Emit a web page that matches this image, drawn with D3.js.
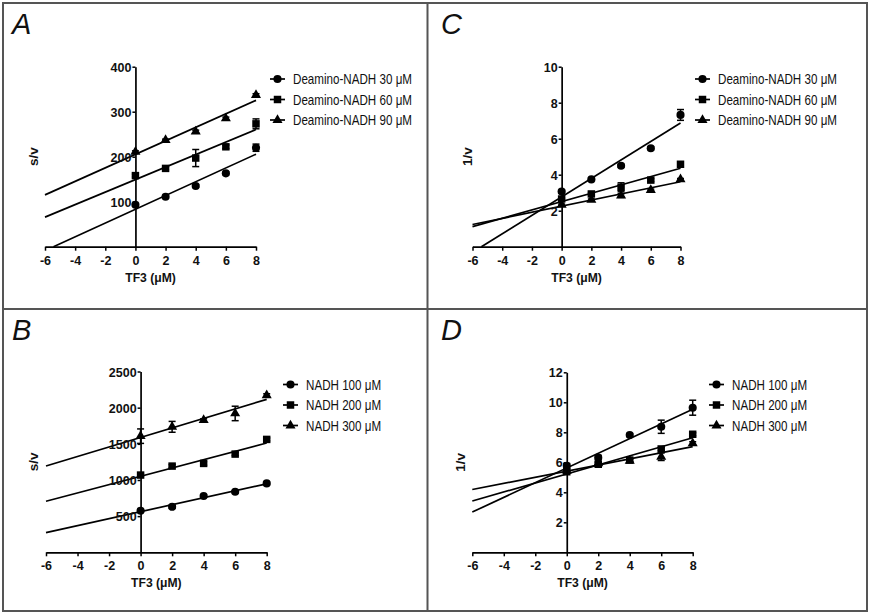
<!DOCTYPE html>
<html><head><meta charset="utf-8">
<script src="https://cdn.jsdelivr.net/npm/d3@7"></script>
<style>body{margin:0;background:#fff} svg{display:block}</style>
</head><body><svg id="chart" width="870" height="614"></svg>
<script>
// ---------- data ----------
const xValues = [0, 2, 4, 6, 8];            // TF3 (μM)
const xTickLabels = [-6, -4, -2, 0, 2, 4, 6, 8];
const deaminoSeries = ["Deamino-NADH 30 μM", "Deamino-NADH 60 μM", "Deamino-NADH 90 μM"];
const nadhSeries = ["NADH 100 μM", "NADH 200 μM", "NADH 300 μM"];

// Panel A: s/v (Deamino-NADH)
const A30 = [93, 111, 135, 163, 220];   const A30err = [3, 3, 3, 3, 8];
const A60 = [158, 174, 197, 222, 273];  const A60err = [3, 3, 19, 4, 11];
const A90 = [211, 237, 256, 285, 337];  const A90err = [2, 2, 3, 3, 3];
const yTicksA = [100, 200, 300, 400];

// Panel C: 1/v (Deamino-NADH)
const C30 = [3.06, 3.74, 4.5, 5.47, 7.32]; const C30err = [0.08, 0.06, 0.08, 0.08, 0.3];
const C60 = [2.65, 2.93, 3.3, 3.7, 4.58];  const C60err = [0.05, 0.08, 0.25, 0.08, 0.1];
const C90 = [2.32, 2.6, 2.84, 3.15, 3.74]; const C90err = [0.05, 0.05, 0.1, 0.05, 0.05];
const yTicksC = [2, 4, 6, 8, 10];

// Panel B: s/v (NADH)
const B100 = [575, 630, 778, 837, 953];     const B100err = [20, 20, 15, 15, 15];
const B200 = [1068, 1192, 1229, 1358, 1561]; const B200err = [20, 20, 25, 20, 20];
const B300 = [1606, 1735, 1827, 1920, 2172]; const B300err = [100, 75, 20, 100, 20];
const yTicksB = [500, 1000, 1500, 2000, 2500];

// Panel D: 1/v (NADH)
const D100 = [5.77, 6.31, 7.82, 8.37, 9.64]; const D100err = [0.15, 0.15, 0.1, 0.44, 0.5];
const D200 = [5.37, 5.87, 6.15, 6.89, 7.87]; const D200err = [0.1, 0.1, 0.1, 0.1, 0.1];
const D300 = [5.45, 5.93, 6.1, 6.37, 7.27];  const D300err = [0.1, 0.1, 0.1, 0.25, 0.1];
const yTicksD = [2, 4, 6, 8, 10, 12];

// ---------- drawing ----------
const svg = d3.select("#chart");
svg.append("rect").attr("x", 0).attr("y", 0).attr("width", 870).attr("height", 614).attr("fill", "#fff");

const FONT = "'Liberation Sans', Arial, Helvetica, sans-serif";
const symbols = [d3.symbolCircle, d3.symbolSquare, d3.symbolTriangle];
const symbolSizes = [52, 56, 44];

const panels = [
  { letter: "A", lx: 12, ly: 34, ylab: "s/v", names: deaminoSeries,
    series: [[A30, A30err], [A60, A60err], [A90, A90err]], yTicks: yTicksA, yMax: 400,
    xr: [45, 256], yr: [246.7, 66.7], ylabX: 38, legX: 270, legY: 79 },
  { letter: "C", lx: 441, ly: 34, ylab: "1/v", names: deaminoSeries,
    series: [[C30, C30err], [C60, C60err], [C90, C90err]], yTicks: yTicksC, yMax: 10,
    xr: [472.5, 680.5], yr: [246.7, 66.7], ylabX: 472, legX: 695, legY: 79 },
  { letter: "B", lx: 12, ly: 340, ylab: "s/v", names: nadhSeries,
    series: [[B100, B100err], [B200, B200err], [B300, B300err]], yTicks: yTicksB, yMax: 2500,
    xr: [46, 266.7], yr: [552.3, 371.5], ylabX: 38, legX: 283, legY: 384.5 },
  { letter: "D", lx: 441, ly: 340, ylab: "1/v", names: nadhSeries,
    series: [[D100, D100err], [D200, D200err], [D300, D300err]], yTicks: yTicksD, yMax: 12,
    xr: [472.3, 692.7], yr: [552.3, 372.3], ylabX: 465, legX: 709, legY: 384.5 }
];

function fit(xs, ys) {
  const mx = d3.mean(xs), my = d3.mean(ys);
  const sxy = d3.sum(xs, (x, i) => (x - mx) * (ys[i] - my));
  const sxx = d3.sum(xs, x => (x - mx) * (x - mx));
  const m = sxy / sxx;
  return { m, b: my - m * mx };
}

panels.forEach(p => {
  const g = svg.append("g");
  const x = d3.scaleLinear().domain([-6, 8]).range(p.xr);
  const y = d3.scaleLinear().domain([0, p.yMax]).range(p.yr);

  // panel letter
  g.append("text").attr("x", p.lx).attr("y", p.ly)
    .attr("font-family", FONT).attr("font-style", "italic").attr("font-size", 29)
    .attr("fill", "#111").text(p.letter);

  // fitted lines
  p.series.forEach(([vals]) => {
    const { m, b } = fit(xValues, vals);
    let x0 = -6;
    if (m * x0 + b < 0) x0 = -b / m;
    g.append("line")
      .attr("x1", x(x0)).attr("y1", y(m * x0 + b))
      .attr("x2", x(8)).attr("y2", y(m * 8 + b))
      .attr("stroke", "#000").attr("stroke-width", 1.7);
  });

  // error bars and markers
  p.series.forEach(([vals, errs], si) => {
    vals.forEach((v, i) => {
      const cx = x(xValues[i]);
      const e = errs[i];
      const eg = g.append("g").attr("stroke", "#000").attr("stroke-width", 1.5);
      eg.append("line").attr("x1", cx).attr("x2", cx).attr("y1", y(v - e)).attr("y2", y(v + e));
      eg.append("line").attr("x1", cx - 3.5).attr("x2", cx + 3.5).attr("y1", y(v - e)).attr("y2", y(v - e));
      eg.append("line").attr("x1", cx - 3.5).attr("x2", cx + 3.5).attr("y1", y(v + e)).attr("y2", y(v + e));
    });
    g.selectAll(null).data(vals).join("path")
      .attr("d", d3.symbol(symbols[si], symbolSizes[si]))
      .attr("transform", (v, i) => `translate(${x(xValues[i])},${y(v)})`)
      .attr("fill", "#000");
  });

  // x axis
  const fmt = d => String(d);
  const xa = g.append("g").attr("transform", `translate(0,${p.yr[0]})`)
    .call(d3.axisBottom(x).tickValues(xTickLabels).tickSize(4).tickSizeOuter(0).tickPadding(5).tickFormat(fmt));
  // y axis at x = 0
  const ya = g.append("g").attr("transform", `translate(${x(0)},0)`)
    .call(d3.axisLeft(y).tickValues(p.yTicks).tickSize(3).tickSizeOuter(0).tickPadding(1).tickFormat(fmt));
  [xa, ya].forEach(a => {
    a.select(".domain").attr("stroke", "#000").attr("stroke-width", 1.7);
    a.selectAll(".tick line").attr("stroke", "#000").attr("stroke-width", 1.5);
    a.selectAll(".tick text").attr("font-family", FONT).attr("font-weight", "bold")
      .attr("font-size", 12.5).attr("fill", "#111");
  });
  ya.selectAll(".tick text").attr("dy", "0.36em");

  // axis titles (slightly condensed, as in the reference)
  g.append("text")
    .attr("transform", `translate(${(p.xr[0] + p.xr[1]) / 2},${p.yr[0] + 35}) scale(0.9,1)`)
    .attr("text-anchor", "middle").attr("font-family", FONT).attr("font-weight", "bold")
    .attr("font-size", 13.5).attr("fill", "#111").text("TF3 (μM)");
  g.append("text")
    .attr("transform", `translate(${p.ylabX},${(p.yr[0] + p.yr[1]) / 2}) rotate(-90)`)
    .attr("text-anchor", "middle").attr("font-family", FONT).attr("font-weight", "bold")
    .attr("font-size", 13.5).attr("fill", "#111").text(p.ylab);

  // legend
  p.names.forEach((name, i) => {
    const ly = p.legY + i * 20.5;
    const lg = g.append("g");
    lg.append("line").attr("x1", p.legX).attr("x2", p.legX + 15).attr("y1", ly).attr("y2", ly)
      .attr("stroke", "#000").attr("stroke-width", 1.7);
    lg.append("path").attr("d", d3.symbol(symbols[i], symbolSizes[i]))
      .attr("transform", `translate(${p.legX + 7.5},${ly})`).attr("fill", "#000");
    lg.append("text")
      .attr("transform", `translate(${p.legX + 23},${ly}) scale(0.83,1)`)
      .attr("dy", "0.36em")
      .attr("font-family", FONT).attr("font-size", 14).attr("fill", "#111").text(name);
  });
});

// frame and dividers
const frame = svg.append("g").attr("stroke", "#555").attr("stroke-width", 2).attr("fill", "none");
frame.append("rect").attr("x", 3).attr("y", 3).attr("width", 864).attr("height", 608);
frame.append("line").attr("x1", 427.5).attr("x2", 427.5).attr("y1", 3).attr("y2", 611);
frame.append("line").attr("x1", 3).attr("x2", 867).attr("y1", 309).attr("y2", 309);
</script>
</body></html>
